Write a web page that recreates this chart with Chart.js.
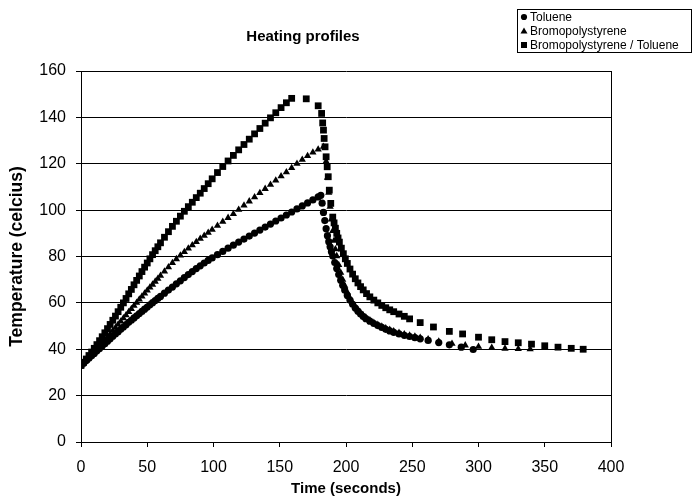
<!DOCTYPE html>
<html lang="en">
<head>
    <meta charset="UTF-8">
    <title>Heating profiles</title>
    <script src="https://cdn.jsdelivr.net/npm/chart.js"></script>
    <style>
        html, body { margin: 0; padding: 0; background: #fff; }
        #chart { display: block; }
    </style>
</head>
<body>
    <canvas id="chart" width="693" height="501"></canvas>
    <script>
        // Toluene (circles)
        const tolueneTime = [0, 2, 4, 6, 8, 10, 12, 14, 16, 18, 20, 22, 24, 26, 28, 30, 32, 34, 36, 38, 40, 42, 44, 46, 48, 50, 52, 54, 56, 58, 60,
            63, 66, 69, 72, 75, 78, 81, 84, 87, 90, 93, 96, 99,
            103, 107, 111, 115, 119, 123, 127, 131, 135, 139, 143, 147, 151, 155, 159, 163, 167, 171, 175, 179, 181,
            182, 183, 184, 185, 186, 187, 188, 189, 190, 191.5, 193, 194.5, 196, 197.5, 199, 201, 203, 205, 207, 209, 211, 213, 215,
            218, 221, 224, 227, 230, 233, 236, 240, 244, 248, 252, 256, 262, 270, 278, 287, 296];
        const tolueneTemp = [33, 34, 35.1, 36.1, 37.2, 38.2, 39.3, 40.3, 41.4, 42.4, 43.5, 44.5, 45.6, 46.6, 47.6, 48.6, 49.6, 50.6, 51.6, 52.5, 53.5, 54.4, 55.4, 56.3, 57.3, 58.2, 59.2, 60.1, 61, 61.9, 62.8,
            64.2, 65.5, 66.8, 68.2, 69.5, 70.9, 72.2, 73.5, 74.8, 76, 77.2, 78.3, 79.4,
            80.8, 82.2, 83.6, 84.9, 86.2, 87.5, 88.8, 90.1, 91.4, 92.7, 94, 95.3, 96.6, 97.9, 99.2, 100.5, 101.8, 103.1, 104.4, 105.7, 106.4,
            103, 99, 95.5, 92, 89, 86.4, 84.2, 82.1, 80.2, 77.4, 74.8, 72.2, 69.8, 67.6, 65.6, 63.2, 61.2, 59.4, 57.8, 56.4, 55.2, 54.1, 53.2,
            52.1, 51.1, 50.2, 49.4, 48.6, 47.9, 47.3, 46.6, 46, 45.5, 45, 44.5, 43.8, 42.9, 41.9, 40.9, 39.9];

        // Bromopolystyrene (triangles)
        const bromoTime = [0, 2, 4, 6, 8, 10, 12, 14, 16, 18, 20, 22, 24, 26, 28, 30, 32, 34, 36, 38, 40, 42, 44, 46, 48, 50, 52, 54, 56, 58, 60,
            63, 66, 69, 72, 75, 78, 81, 84, 87, 90, 93, 96, 99,
            103, 107, 111, 115, 119, 123, 127, 131, 135, 139, 143, 147, 151, 155, 159, 163, 167, 171, 175, 179, 183,
            185, 186, 187, 188, 189, 190, 191, 192, 193, 194.5, 196, 197.5, 199, 201, 203, 205, 207, 209, 211, 213, 215,
            218, 221, 224, 227, 230, 233, 236, 240, 244, 248, 252, 256, 262, 270, 280, 290, 300, 310, 320, 330, 339];
        const bromoTemp = [33, 34.1, 35.2, 36.4, 37.6, 38.8, 40.1, 41.4, 42.7, 44, 45.3, 46.6, 48, 49.3, 50.7, 52, 53.4, 54.7, 56.1, 57.4, 58.8, 60.1, 61.5, 62.8, 64.1, 65.4, 66.7, 67.9, 69.2, 70.4, 71.7,
            73.6, 75.4, 77.2, 78.9, 80.5, 82, 83.5, 84.9, 86.3, 87.7, 89, 90.3, 91.6,
            93.3, 95, 96.7, 98.4, 100.2, 102, 103.8, 105.6, 107.4, 109.2, 111, 112.8, 114.6, 116.4, 118.2, 120, 121.8, 123.4, 124.9, 126.2, 127.4,
            121, 114, 107.5, 101.5, 96, 91, 86.8, 83.2, 80.2, 76.4, 73, 70, 67.4, 64.5, 62, 60, 58.3, 56.9, 55.7, 54.6, 53.7,
            52.5, 51.5, 50.6, 49.8, 49.1, 48.4, 47.8, 47.1, 46.5, 46, 45.5, 45, 44.3, 43.4, 42.4, 41.7, 41.1, 40.7, 40.3, 40.1, 40];

        // Bromopolystyrene / Toluene (squares)
        const mixTime = [0, 2, 4, 6, 8, 10, 12, 14, 16, 18, 20, 22, 24, 26, 28, 30, 32, 34, 36, 38, 40, 42, 44, 46, 48, 50, 52, 54, 56, 58, 60,
            63, 66, 69, 72, 75, 78, 81, 84, 87, 90, 93, 96, 99,
            103, 107, 111, 115, 119, 123, 127, 131, 135, 139, 143, 147, 151, 155, 159, 170, 179,
            181.6, 182.4, 183, 183.5, 184.2, 185, 185.8, 186.6, 187.4, 188.5, 190, 191, 192, 193, 194, 195, 196.5, 198, 199.5,
            201, 203, 205, 207, 209, 211, 213, 215.5, 218, 221, 224, 227, 230, 233, 236, 240, 244, 248, 256, 266, 278, 288,
            300, 310, 320, 330, 340, 350, 360, 370, 379];
        const mixTemp = [33, 34.4, 35.8, 37.3, 38.8, 40.4, 42, 43.7, 45.4, 47.1, 48.9, 50.7, 52.5, 54.3, 56.2, 58.1, 60, 61.9, 63.9, 65.8, 67.8, 69.7, 71.6, 73.5, 75.4, 77.2, 79, 80.8, 82.5, 84.2, 85.9,
            88.3, 90.7, 93, 95.2, 97.4, 99.5, 101.5, 103.4, 105.4, 107.3, 109.3, 111.4, 113.5,
            116.2, 118.8, 121.2, 123.6, 126, 128.3, 130.6, 132.9, 135.2, 137.5, 139.8, 142, 144.2, 146.3, 148.2, 148, 145,
            141.7, 137.6, 134.5, 130.9, 127.3, 123, 118.7, 114.4, 108.6, 102.9, 97, 94.5, 92.2, 90, 88, 86.2, 83.6, 81.2, 79,
            77, 74.6, 72.4, 70.4, 68.6, 67, 65.6, 64, 62.6, 61.2, 60, 58.9, 57.9, 57, 56.2, 55.2, 54.2, 53.1, 51.5, 49.6, 47.7, 46.6,
            45.2, 44.1, 43.3, 42.8, 42.2, 41.5, 40.9, 40.4, 40];

        const seriesNames = ['Toluene', 'Bromopolystyrene', 'Bromopolystyrene / Toluene'];
        const xTicks = [0, 50, 100, 150, 200, 250, 300, 350, 400];
        const yTicks = [0, 20, 40, 60, 80, 100, 120, 140, 160];

        const FONT = "'Liberation Sans', Arial, sans-serif";

        function toPoints(xs, ys) {
            return xs.map((x, i) => ({ x: x, y: ys[i] }));
        }

        // title, legend box and right border of the plot
        const decorations = {
            id: 'decorations',
            afterDraw(chart) {
                const ctx = chart.ctx;
                const area = chart.chartArea;
                ctx.save();
                ctx.strokeStyle = '#000';
                ctx.lineWidth = 1;
                ctx.beginPath();
                ctx.moveTo(Math.round(area.right) + 0.5, Math.round(area.top));
                ctx.lineTo(Math.round(area.right) + 0.5, Math.round(area.bottom) + 1);
                ctx.stroke();

                ctx.fillStyle = '#000';
                ctx.font = 'bold 15px ' + FONT;
                ctx.textAlign = 'center';
                ctx.textBaseline = 'middle';
                ctx.fillText('Heating profiles', 303, 37);

                // legend
                const lx = 517, ly = 9, lw = 174, rowH = 14;
                ctx.strokeRect(lx + 0.5, ly + 0.5, lw, 43);
                ctx.font = '12px ' + FONT;
                ctx.textAlign = 'left';
                seriesNames.forEach((name, i) => {
                    const cy = ly + 8 + i * rowH;
                    const cx = lx + 7;
                    ctx.beginPath();
                    if (i === 0) {
                        ctx.arc(cx, cy, 3.1, 0, Math.PI * 2);
                    } else if (i === 1) {
                        ctx.moveTo(cx, cy - 3.6);
                        ctx.lineTo(cx + 3.5, cy + 2.6);
                        ctx.lineTo(cx - 3.5, cy + 2.6);
                        ctx.closePath();
                    } else {
                        ctx.rect(cx - 3, cy - 3, 6, 6);
                    }
                    ctx.fill();
                    ctx.fillText(name, cx + 6, cy + 1);
                });
                ctx.restore();
            }
        };

        const pointBase = { backgroundColor: '#000', borderColor: '#000', borderWidth: 0, showLine: false };

        new Chart(document.getElementById('chart'), {
            type: 'scatter',
            data: {
                datasets: [
                    Object.assign({ label: seriesNames[0], data: toPoints(tolueneTime, tolueneTemp), pointStyle: 'circle', pointRadius: 3.6 }, pointBase),
                    Object.assign({ label: seriesNames[1], data: toPoints(bromoTime, bromoTemp), pointStyle: 'triangle', pointRadius: 4.2 }, pointBase),
                    Object.assign({ label: seriesNames[2], data: toPoints(mixTime, mixTemp), pointStyle: 'rect', pointRadius: 4.8 }, pointBase)
                ]
            },
            options: {
                responsive: false,
                animation: false,
                layout: { padding: { top: 71, right: 82, bottom: 0, left: 0 } },
                plugins: {
                    legend: { display: false },
                    title: { display: false },
                    tooltip: { enabled: false }
                },
                scales: {
                    x: {
                        type: 'linear',
                        min: 0,
                        max: 400,
                        afterBuildTicks: (scale) => { scale.ticks = xTicks.map(v => ({ value: v })); },
                        afterFit: (scale) => { scale.height = 59; },
                        ticks: { color: '#000', font: { family: FONT, size: 16 }, padding: 11, maxRotation: 0 },
                        grid: { drawOnChartArea: false, drawTicks: true, tickLength: 5, color: '#000' },
                        border: { display: true, color: '#000', width: 1 },
                        title: { display: true, text: 'Time (seconds)', color: '#000', font: { family: FONT, size: 15, weight: 'bold' }, padding: { top: 0, bottom: 3 } }
                    },
                    y: {
                        min: 0,
                        max: 160,
                        afterBuildTicks: (scale) => { scale.ticks = yTicks.map(v => ({ value: v })); },
                        afterFit: (scale) => { scale.width = 81; },
                        ticks: { color: '#000', font: { family: FONT, size: 16 }, padding: 10 },
                        grid: { drawOnChartArea: true, drawTicks: true, tickLength: 5, color: '#000', lineWidth: 1 },
                        border: { display: true, color: '#000', width: 1 },
                        title: { display: true, text: 'Temperature (celcius)', color: '#000', font: { family: FONT, size: 17.5, weight: 'bold' }, padding: { top: 7, bottom: 0 } }
                    }
                }
            },
            plugins: [decorations]
        });
    </script>
</body>
</html>
